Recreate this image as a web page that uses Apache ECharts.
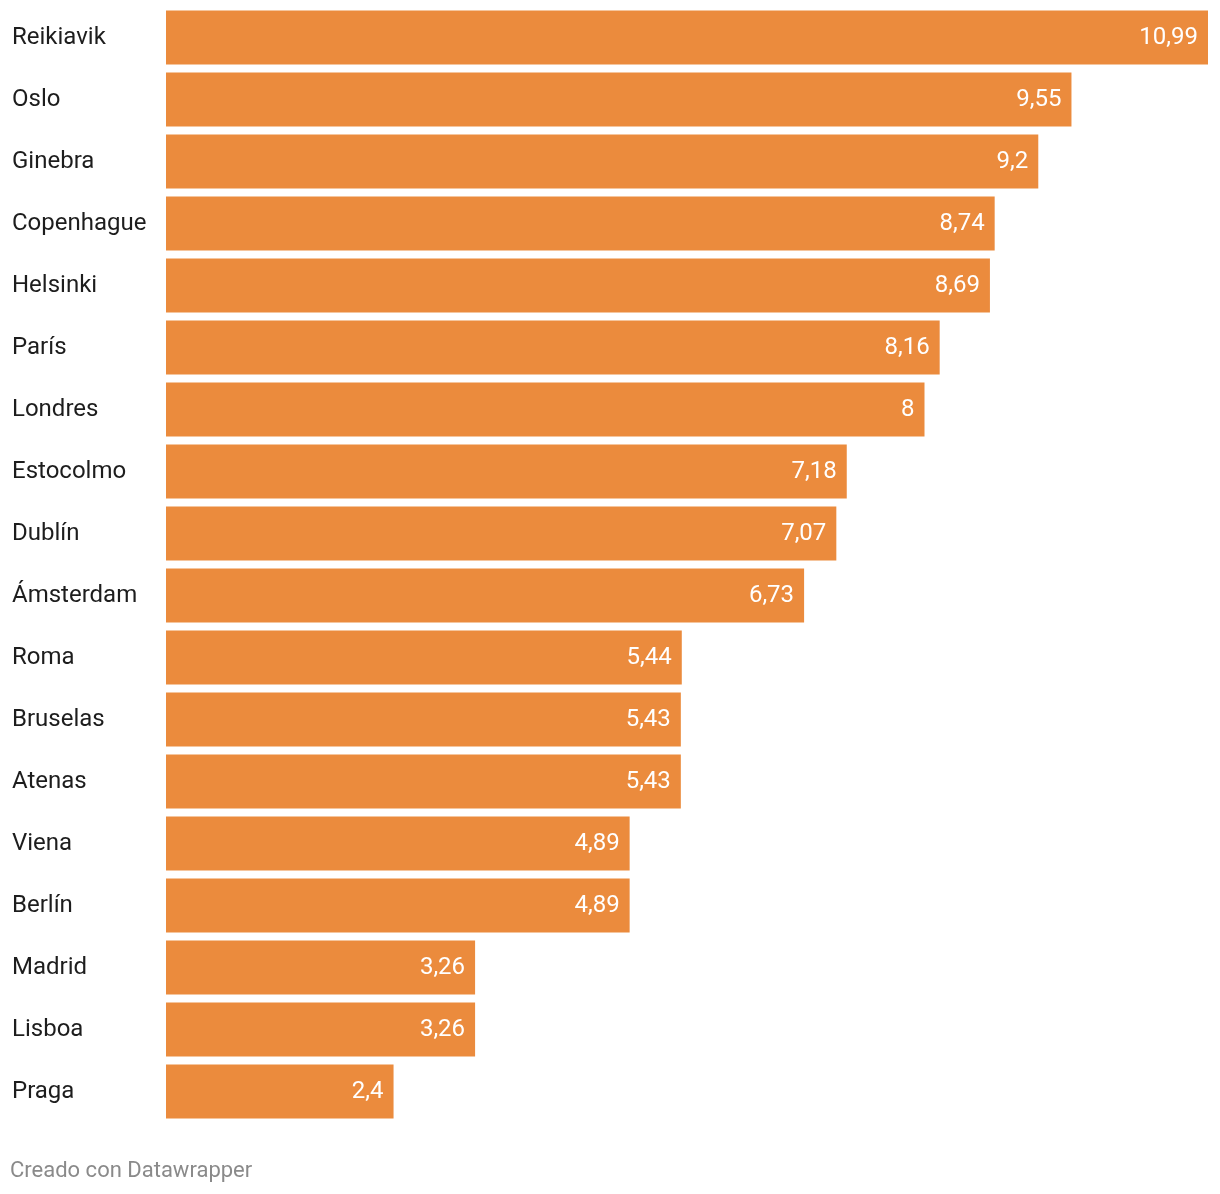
<!DOCTYPE html>
<html>
<head>
<meta charset="utf-8">
<script src="https://cdn.jsdelivr.net/npm/echarts@6/dist/echarts.min.js"></script>
<style>
html,body{margin:0;padding:0;background:#fff;}
#chart{width:1220px;height:1194px;}
</style>
</head>
<body>
<div id="chart"></div>
<script>
const categories = ["Reikiavik","Oslo","Ginebra","Copenhague","Helsinki","París","Londres","Estocolmo","Dublín","Ámsterdam","Roma","Bruselas","Atenas","Viena","Berlín","Madrid","Lisboa","Praga"];
const values = [10.99,9.55,9.2,8.74,8.69,8.16,8,7.18,7.07,6.73,5.44,5.43,5.43,4.89,4.89,3.26,3.26,2.4];
const footerText = "Creado con Datawrapper";

const chart = echarts.init(document.getElementById('chart'), null, {renderer:'canvas'});
chart.setOption({
  animation:false,
  backgroundColor:'#ffffff',
  grid:{left:166, width:1042, top:6.5, height:1116},
  xAxis:{type:'value', min:0, max:10.99, show:false},
  yAxis:{type:'category', data:categories, inverse:true,
    axisLine:{show:false}, axisTick:{show:false}, splitLine:{show:false},
    axisLabel:{align:'left', margin:154, fontFamily:'Roboto', fontSize:24, color:'#1d1d1d', padding:[2,0,0,0]}},
  series:[{type:'bar', data:values, barWidth:54,
    itemStyle:{color:'#eb8b3d'},
    label:{show:true, position:'insideRight', distance:10, color:'#ffffff', fontFamily:'Roboto', fontSize:24, padding:[2,0,0,0],
      formatter:p=>String(p.value).replace('.',',')}}],
  graphic:[{type:'text', left:10, top:1160, style:{text:footerText, fontFamily:'Roboto', fontSize:22, fill:'#8a8a8a'}}]
});
</script>
</body>
</html>
